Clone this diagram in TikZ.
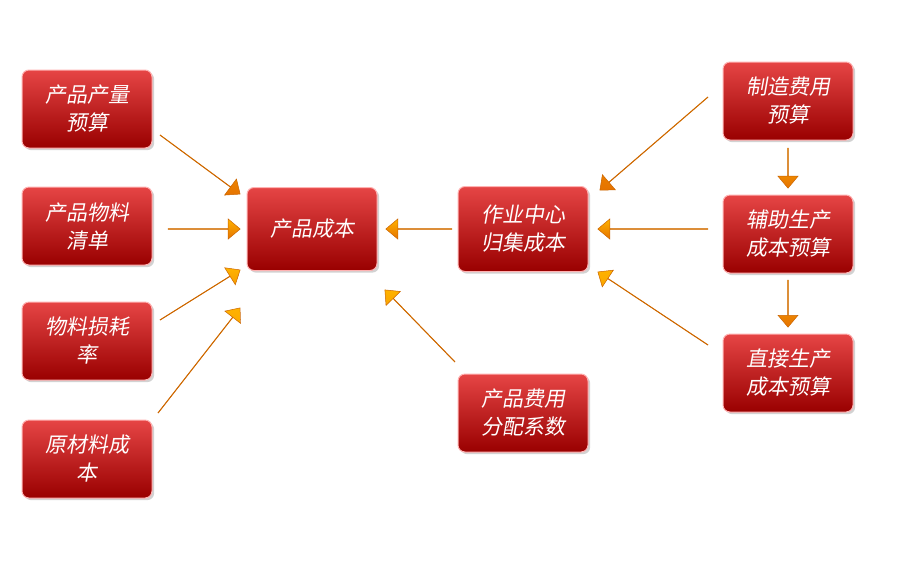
\documentclass[tikz,border=0pt]{standalone}
\usepackage{fontspec}
\newfontfamily\cjk[FakeSlant=0.18]{Noto Sans CJK SC}
\usetikzlibrary{shapes.arrows,calc,shadows}
\tikzset{
  box/.style={draw=red!30!white, line width=1pt, rounded corners=7pt, minimum width=130pt, minimum height=78pt,
    top color=red!70!white!90!black, bottom color=red!60!black, text=white, align=center,
    font=\cjk\fontsize{21}{28}\selectfont, drop shadow={opacity=0.35}},
  barrow/.style={single arrow, draw=orange!80!black, line width=0.5pt, minimum width=20pt, single arrow head extend=9pt,
    single arrow tip angle=80, inner sep=0pt, left color=orange!60!yellow, right color=orange!90!black, shading angle=0}
}
\newcommand{\barr}[2]{\path let \p1=(#1), \p2=(#2), \n1={atan2(\y2-\y1,\x2-\x1)}, \n2={veclen(\x2-\x1,\y2-\y1)} in
  node[barrow, rotate=\n1, minimum height=\n2] at ($(#1)!0.5!(#2)$) {};}
\begin{document}
\begin{tikzpicture}[x=1pt,y=-1pt]
\useasboundingbox (0,0) rectangle (899,574);
\fill[white] (0,0) rectangle (899,574);
\node[box] (a1) at (87,109) {产品产量\\预算};
\node[box] (a2) at (87,226) {产品物料\\清单};
\node[box] (a3) at (87,341) {物料损耗\\率};
\node[box] (a4) at (87,459) {原材料成\\本};
\node[box, minimum height=83pt] (pc) at (312,229) {产品成本};
\node[box, minimum height=85pt] (zy) at (523,229) {作业中心\\归集成本};
\node[box] (fp) at (523,413) {产品费用\\分配系数};
\node[box] (zz) at (788,101) {制造费用\\预算};
\node[box] (fz) at (788,234) {辅助生产\\成本预算};
\node[box] (zj) at (788,373) {直接生产\\成本预算};
\coordinate (s1) at (160,135); \coordinate (e1) at (240,194);
\coordinate (s2) at (168,229); \coordinate (e2) at (240,229);
\coordinate (s3) at (160,320); \coordinate (e3) at (240,270);
\coordinate (s4) at (158,413); \coordinate (e4) at (240,308);
\coordinate (s5) at (452,229); \coordinate (e5) at (386,229);
\coordinate (s6) at (455,362); \coordinate (e6) at (385,290);
\coordinate (s7) at (708,97);  \coordinate (e7) at (600,190);
\coordinate (s8) at (708,229); \coordinate (e8) at (598,229);
\coordinate (s9) at (708,345); \coordinate (e9) at (598,272);
\coordinate (s10) at (788,148); \coordinate (e10) at (788,188);
\coordinate (s11) at (788,280); \coordinate (e11) at (788,327);
\foreach \i in {1,...,11}{\barr{s\i}{e\i}}
\end{tikzpicture}
\end{document}
